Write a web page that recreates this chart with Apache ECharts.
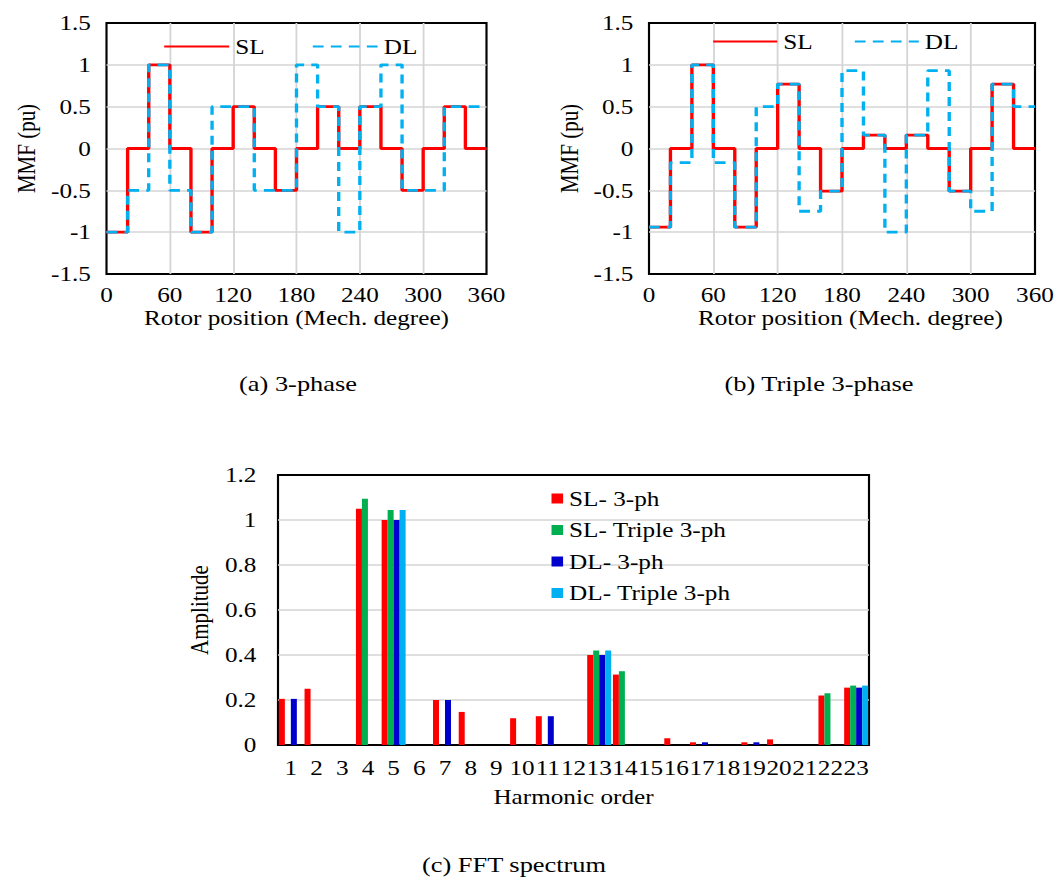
<!DOCTYPE html>
<html>
<head>
<meta charset="utf-8">
<script src="https://cdn.jsdelivr.net/npm/echarts@6/dist/echarts.min.js"></script>
<style>
html,body{margin:0;padding:0;background:#fff;overflow:hidden;}
#c{width:885px;height:887px;transform:scaleX(1.2);transform-origin:0 0;}
</style>
</head>
<body>
<div id="c"></div>
<script>
// ---- Data ----
// segment start angles (mech. degree) for the MMF step waveforms, plus the end point 360
const segAngles = [0, 20, 40, 60, 80, 100, 120, 140, 160, 180, 200, 220, 240, 260, 280, 300, 320, 340, 360];
// (a) 3-phase
const slA = [-1, 0, 1, 0, -1, 0, 0.5, 0, -0.5, 0, 0.5, 0, 0.5, 0, -0.5, 0, 0.5, 0];
const dlA = [-1, -0.5, 1, -0.5, -1, 0.5, 0.5, -0.5, -0.5, 1, 0.5, -1, 0.5, 1, -0.5, -0.5, 0.5, 0.5];
// (b) Triple 3-phase
const slB = [-0.94, 0, 1, 0, -0.94, 0, 0.77, 0, -0.51, 0, 0.16, 0, 0.16, 0, -0.51, 0, 0.77, 0];
const dlB = [-0.94, -0.17, 1, -0.17, -0.94, 0.5, 0.77, -0.75, -0.51, 0.93, 0.16, -1, 0.16, 0.93, -0.51, -0.75, 0.77, 0.5];
// (c) FFT spectrum
const harmonics = ['1','2','3','4','5','6','7','8','9','10','11','12','13','14','15','16','17','18','19','20','21','22','23'];
const sl3ph  = [0.205, 0.25, 0, 1.05, 1.0, 0, 0.2, 0.147, 0, 0.119, 0.128, 0, 0.40, 0.313, 0, 0.03, 0.012, 0, 0.012, 0.025, 0, 0.22, 0.255];
const slT3ph = [0, 0, 0, 1.095, 1.045, 0, 0, 0, 0, 0, 0, 0, 0.42, 0.328, 0, 0, 0, 0, 0, 0, 0, 0.23, 0.264];
const dl3ph  = [0.205, 0, 0, 0, 1.0, 0, 0.2, 0, 0, 0, 0.128, 0, 0.40, 0, 0, 0, 0.012, 0, 0.012, 0, 0, 0, 0.255];
const dlT3ph = [0, 0, 0, 0, 1.045, 0, 0, 0, 0, 0, 0, 0, 0.42, 0, 0, 0, 0, 0, 0, 0, 0, 0, 0.264];
const mmfTicks = { min: -1.5, max: 1.5, step: 0.5 };
const angleTicks = { min: 0, max: 360, step: 60 };
const ampTicks = { min: 0, max: 1.2, step: 0.2 };

// ---- Build ----
// The reference figure is horizontally stretched; the chart is laid out in a narrower
// box and widened by CSS. X() converts reference-pixel x positions to layout pixels.
const S = 1.2;
const X = v => v / S;

function stepData(vals) {
  const d = vals.map((v, i) => [segAngles[i], v]);
  d.push([segAngles[segAngles.length - 1], vals[vals.length - 1]]);
  return d;
}
const FONT = "'Liberation Serif','Times New Roman',serif";
const txt = { fontFamily: FONT, fontSize: 21, color: '#000' };
const gridLine = { show: true, showMinLine: false, showMaxLine: false, lineStyle: { color: '#d4d4d4', width: 1.5 } };
const RED = '#FF0000', LBLUE = '#00B0F0', GREEN = '#00B050', DBLUE = '#0000CC';

function valueX(gi, namePad) {
  return {
    type: 'value', gridIndex: gi, min: angleTicks.min, max: angleTicks.max, interval: angleTicks.step,
    axisLine: { show: false }, axisTick: { show: false },
    axisLabel: Object.assign({ margin: 10 }, txt),
    splitLine: gridLine,
    name: 'Rotor position (Mech. degree)', nameLocation: 'middle', nameGap: 33,
    nameTextStyle: Object.assign({ padding: namePad }, txt)
  };
}
function valueY(gi) {
  return {
    type: 'value', gridIndex: gi, min: mmfTicks.min, max: mmfTicks.max, interval: mmfTicks.step,
    axisLine: { show: false }, axisTick: { show: false },
    axisLabel: Object.assign({ margin: 13 }, txt),
    splitLine: gridLine,
    name: 'MMF (pu)', nameLocation: 'middle', nameGap: 56,
    nameTextStyle: txt
  };
}
function lineSeries(name, vals, xi, color, dash, z) {
  return {
    type: 'line', name: name, xAxisIndex: xi, yAxisIndex: xi, data: stepData(vals), step: 'end',
    symbol: 'none', z: z, lineStyle: { color: color, width: 2.8, type: dash }, itemStyle: { color: color }
  };
}
function barSeries(name, vals, color) {
  return {
    type: 'bar', name: name, xAxisIndex: 2, yAxisIndex: 2, data: vals, barWidth: 5, barGap: '0%',
    itemStyle: { color: color }
  };
}
const gridBox = { show: true, borderColor: '#000', borderWidth: 1.8, backgroundColor: 'transparent' };

const option = {
  animation: false,
  backgroundColor: '#fff',
  grid: [
    Object.assign({ left: X(106.5), top: 23, width: X(380), height: 251 }, gridBox),
    Object.assign({ left: X(649), top: 23, width: X(386), height: 251 }, gridBox),
    Object.assign({ left: X(278), top: 475, width: X(591), height: 270 }, gridBox)
  ],
  xAxis: [
    valueX(0, [0, 0, 0, 0]),
    valueX(1, [0, 0, 0, 14]),
    {
      type: 'category', gridIndex: 2, data: harmonics,
      axisLine: { show: false }, axisTick: { show: false },
      axisLabel: Object.assign({ margin: 12, interval: 0 }, txt),
      splitLine: { show: false },
      name: 'Harmonic order', nameLocation: 'middle', nameGap: 41,
      nameTextStyle: txt
    }
  ],
  yAxis: [
    valueY(0),
    valueY(1),
    {
      type: 'value', gridIndex: 2, min: ampTicks.min, max: ampTicks.max, interval: ampTicks.step,
      axisLine: { show: false }, axisTick: { show: false },
      axisLabel: Object.assign({ margin: 18 }, txt),
      splitLine: gridLine,
      name: 'Amplitude', nameLocation: 'middle', nameGap: 46,
      nameTextStyle: txt
    }
  ],
  legend: [
    { left: X(163), top: 36, padding: 0, itemWidth: X(65), itemHeight: 14, itemGap: X(47), data: ['SL', 'DL'],
      itemStyle: { opacity: 0 },
      textStyle: Object.assign({ lineHeight: 20 }, txt), selectedMode: false },
    { left: X(712), top: 31, padding: 0, itemWidth: X(64), itemHeight: 14, itemGap: X(41), data: ['SL', 'DL'],
      itemStyle: { opacity: 0 },
      textStyle: Object.assign({ lineHeight: 20 }, txt), selectedMode: false },
    { left: X(551.5), top: 488, padding: 0, orient: 'vertical', itemWidth: X(11.6), itemHeight: 10, itemGap: 10.5, icon: 'rect',
      data: ['SL- 3-ph', 'SL- Triple 3-ph', 'DL- 3-ph', 'DL- Triple 3-ph'],
      textStyle: Object.assign({ lineHeight: 20 }, txt), selectedMode: false }
  ],
  series: [
    lineSeries('SL', slA, 0, RED, 'solid', 2),
    lineSeries('DL', dlA, 0, LBLUE, [9, 6], 3),
    lineSeries('SL', slB, 1, RED, 'solid', 2),
    lineSeries('DL', dlB, 1, LBLUE, [9, 6], 3),
    barSeries('SL- 3-ph', sl3ph, RED),
    barSeries('SL- Triple 3-ph', slT3ph, GREEN),
    barSeries('DL- 3-ph', dl3ph, DBLUE),
    barSeries('DL- Triple 3-ph', dlT3ph, LBLUE)
  ],
  graphic: [
    { type: 'text', x: X(298), y: 383, style: { text: '(a) 3-phase', font: "22px 'Liberation Serif','Times New Roman',serif", fill: '#000', textAlign: 'center', textVerticalAlign: 'middle' } },
    { type: 'text', x: X(819), y: 383, style: { text: '(b) Triple 3-phase', font: "22px 'Liberation Serif','Times New Roman',serif", fill: '#000', textAlign: 'center', textVerticalAlign: 'middle' } },
    { type: 'text', x: X(514), y: 864, style: { text: '(c) FFT spectrum', font: "22px 'Liberation Serif','Times New Roman',serif", fill: '#000', textAlign: 'center', textVerticalAlign: 'middle' } }
  ]
};
const chart = echarts.init(document.getElementById('c'), null, { renderer: 'svg' });
chart.setOption(option);
</script>
</body>
</html>
